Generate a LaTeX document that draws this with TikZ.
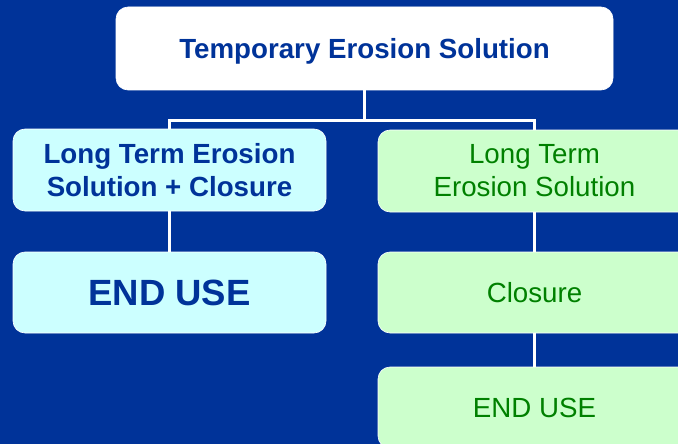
\documentclass[tikz,border=0pt]{standalone}
\usepackage{fontspec}
\setmainfont{Liberation Sans}
\usepackage{tikz}

\definecolor{bgblue}{RGB}{0,51,153}
\definecolor{txtblue}{RGB}{0,51,153}
\definecolor{txtgreen}{RGB}{0,128,0}
\definecolor{cyanbox}{RGB}{204,255,255}
\definecolor{greenbox}{RGB}{204,255,204}

\begin{document}
\begin{tikzpicture}[x=1pt,y=-1pt]
\tikzstyle{every node}=[rounded corners=12pt,draw=white,line width=0.6pt,align=center,inner sep=0pt,
  font=\fontsize{27.7}{33.2}\selectfont];
\tikzstyle{bluebox}=[fill=cyanbox,text=txtblue,minimum width=313pt,font=\fontsize{27.7}{33.2}\selectfont\bfseries];
\tikzstyle{greenbox}=[fill=greenbox,text=txtgreen,minimum width=313pt];
\tikzstyle{link}=[draw=white,line width=2.6pt];
% background
    \fill[bgblue] (0,0) rectangle (678,444);
    \clip (0,0) rectangle (678,444);
%   nodes
    \node[fill=white,text=txtblue,minimum width=497pt,minimum height=83pt,text depth=0pt,
      font=\fontsize{27.7}{33.2}\selectfont\bfseries] (tes) at (364.5,48.5) {Temporary Erosion Solution};
    \node[bluebox,minimum height=82pt] (ltc) at (169.5,170) {Long Term Erosion\\Solution + Closure};
    \node[bluebox,minimum height=81pt,font=\fontsize{36.5}{40}\selectfont\bfseries] (eu1) at (169.5,292.5) {END USE};
    \node[greenbox,minimum height=82pt] (lte) at (534.5,171) {Long Term\\Erosion Solution};
    \node[greenbox,minimum height=81pt] (cl) at (534.5,292.5) {Closure};
    \node[greenbox,minimum height=81pt] (eu2) at (534.5,407.5) {END USE};
%   edges
    \draw[link] (tes.south) -- ++(0,30) -| (ltc.north);
    \draw[link] (tes.south) -- ++(0,30) -| (lte.north);
    \draw[link] (ltc) -- (eu1);
    \draw[link] (lte) -- (cl) -- (eu2);
\end{tikzpicture}
\end{document}
